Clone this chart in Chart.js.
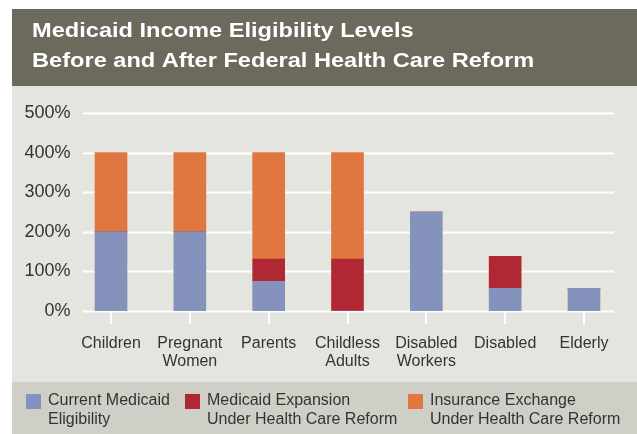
<!DOCTYPE html>
<html>
<head>
<meta charset="utf-8">
<script src="https://cdn.jsdelivr.net/npm/chart.js@4.4.1/dist/chart.umd.min.js"></script>
<style>
  html, body { margin: 0; padding: 0; background: #ffffff; }
  #wrap { width: 637px; height: 434px; }
</style>
</head>
<body>
<div id="wrap"><canvas id="chart" width="637" height="434"></canvas></div>
<script>
// chart data
const categories = [
    ["Children"], ["Pregnant", "Women"], ["Parents"], ["Childless", "Adults"],
    ["Disabled", "Workers"], ["Disabled"], ["Elderly"]
];
const currentMedicaid = [200, 200, 75, 0, 250, 57, 57];
const medicaidExpansion = [0, 0, 56, 131, 0, 81, 0];
const insuranceExchange = [200, 200, 269, 269, 0, 0, 0];
const seriesNames = [
    ["Current Medicaid", "Eligibility"],
    ["Medicaid Expansion", "Under Health Care Reform"],
    ["Insurance Exchange", "Under Health Care Reform"]
];
const titleLines = ["Medicaid Income Eligibility Levels", "Before and After Federal Health Care Reform"];
const yTicks = [0, 100, 200, 300, 400, 500];

const COLORS = ["#8592bb", "#b12835", "#e07640"];
const TEXT = "#333333";
const FONT = "'Liberation Sans', Arial, sans-serif";

// backgrounds, heading and white grid lines behind the bars
const panelPlugin = {
    id: 'panel',
    beforeDraw(chart) {
        const ctx = chart.ctx;
        ctx.save();
        ctx.fillStyle = "#6b6a5c";
        ctx.fillRect(12, 9, 625, 77);
        ctx.fillStyle = "#e5e5e0";
        ctx.fillRect(12, 86, 625, 296);
        ctx.fillStyle = "#cfcec7";
        ctx.fillRect(12, 382, 625, 52);

        ctx.fillStyle = "#ffffff";
        ctx.font = "bold 20px " + FONT;
        ctx.textBaseline = "alphabetic";
        ctx.translate(32, 0);
        ctx.scale(1.18, 1);
        ctx.fillText(titleLines[0], 0, 37);
        ctx.fillText(titleLines[1], 0, 67);
        ctx.restore();
    },
    beforeDatasetsDraw(chart) {
        const ctx = chart.ctx;
        const y = chart.scales.y;
        ctx.save();
        ctx.strokeStyle = "#ffffff";
        ctx.lineWidth = 2;
        yTicks.forEach(v => {
            const py = Math.round(y.getPixelForValue(v)) + 0.5;
            ctx.beginPath();
            ctx.moveTo(83, py);
            ctx.lineTo(614, py);
            ctx.stroke();
        });
        ctx.restore();
    },
    afterDraw(chart) {
        // legend band
        const ctx = chart.ctx;
        const boxX = [26, 185, 408];
        ctx.save();
        ctx.font = "16px " + FONT;
        ctx.textBaseline = "middle";
        chart.data.datasets.forEach((ds, i) => {
            ctx.fillStyle = ds.backgroundColor;
            ctx.fillRect(boxX[i], 394, 15, 15);
            ctx.fillStyle = TEXT;
            seriesNames[i].forEach((line, k) => {
                ctx.fillText(line, boxX[i] + 22, 401 + k * 18.5);
            });
        });
        ctx.restore();
    }
};

new Chart(document.getElementById('chart'), {
    type: 'bar',
    data: {
        labels: categories,
        datasets: [
            { label: seriesNames[0].join(' '), data: currentMedicaid, backgroundColor: COLORS[0] },
            { label: seriesNames[1].join(' '), data: medicaidExpansion, backgroundColor: COLORS[1] },
            { label: seriesNames[2].join(' '), data: insuranceExchange, backgroundColor: COLORS[2] }
        ]
    },
    options: {
        responsive: false,
        animation: false,
        layout: {
            padding: { left: 0, right: 13.6, top: 113, bottom: 0 }
        },
        datasets: {
            bar: { barThickness: 32, borderWidth: 0 }
        },
        plugins: {
            legend: { display: false },
            title: { display: false },
            tooltip: { enabled: false }
        },
        scales: {
            x: {
                stacked: true,
                afterFit(scale) { scale.height = 123; },
                border: { display: false },
                grid: {
                    offset: false,
                    drawOnChartArea: false,
                    drawTicks: true,
                    tickLength: 13,
                    color: "#ffffff",
                    lineWidth: 2
                },
                ticks: {
                    color: TEXT,
                    padding: 11,
                    maxRotation: 0,
                    autoSkip: false,
                    font: { family: FONT, size: 16, lineHeight: 1.12 }
                }
            },
            y: {
                stacked: true,
                min: 0,
                max: 500,
                afterFit(scale) { scale.width = 71.6; },
                border: { display: false },
                grid: { display: false, drawTicks: false },
                ticks: {
                    stepSize: 100,
                    color: TEXT,
                    padding: 1,
                    font: { family: FONT, size: 18 },
                    callback: v => v + "%"
                }
            }
        }
    },
    plugins: [panelPlugin]
});
</script>
</body>
</html>
